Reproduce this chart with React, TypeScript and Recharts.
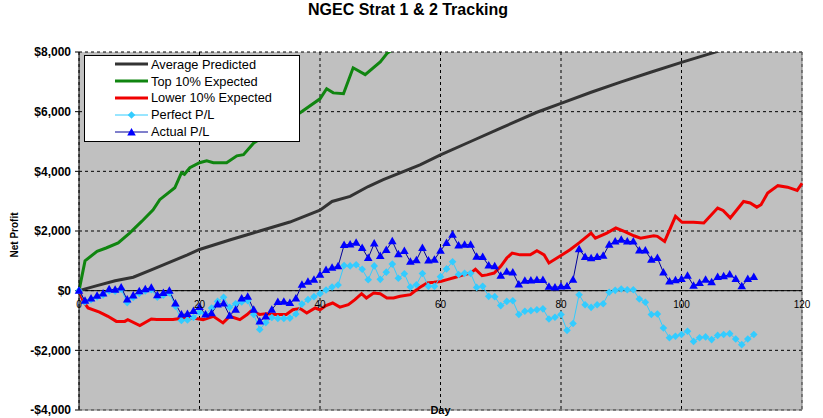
import React from "react";
import {
  LineChart,
  Line,
  XAxis,
  YAxis,
  CartesianGrid,
  ReferenceLine,
  Legend,
} from "recharts";

const dayTicks = [0, 20, 40, 60, 80, 100, 120];
const profitTicks = [-4000, -2000, 0, 2000, 4000, 6000, 8000];

// [day, $] vertices
const averagePredicted: [number, number][] = [
  [0, 0], [3, 170], [6, 330], [9, 450], [12, 700], [15, 950], [18, 1200],
  [20, 1380], [25, 1700], [30, 2000], [35, 2300], [40, 2700], [42, 2990],
  [45, 3160], [48, 3490], [50.5, 3720], [53.3, 3950], [56.6, 4220], [60, 4550],
  [65, 5000], [70, 5450], [76, 5980], [80, 6280], [85, 6650], [90, 7000],
  [95, 7330], [100, 7650], [106, 8020], [112, 8450], [120, 9000],
];

const top10Expected: [number, number][] = [
  [0, 0], [1, 1000], [3, 1320], [4.5, 1430], [6.5, 1600], [8.4, 1930],
  [10.4, 2320], [12.3, 2710], [13.4, 3050], [15.9, 3450], [17, 3950],
  [17.5, 3900], [18.4, 4120], [20, 4290], [21.2, 4350], [22.3, 4290],
  [24.5, 4290], [26.2, 4520], [27.3, 4560], [29, 4950], [33, 5450],
  [36.7, 5960], [40, 6430], [41.1, 6770], [42.2, 6630], [43.9, 6600],
  [45.5, 7470], [47.5, 7240], [50, 7670], [51.2, 7970], [52.5, 8140], [55, 8600],
];

const lower10Expected: [number, number][] = [
  [0, 0], [0.7, -357], [1.5, -580], [3.4, -720], [4.8, -860], [6.2, -1030],
  [7.6, -1030], [8.1, -970], [10.1, -1170], [12, -950], [12.9, -970],
  [15.6, -970], [17.3, -920], [18.9, -920], [20.6, -970], [22.3, -860],
  [23.9, -1080], [25, -860], [26.7, -970], [27.9, -800], [28.5, -690],
  [30, -800], [31.1, -770], [32.7, -800], [34.4, -800], [35.5, -640],
  [36.7, -600], [37.8, -750], [39.2, -580], [40, -640], [41, -500],
  [42.1, -413], [43.3, -550], [44.7, -470], [45.8, -300], [46.9, -100],
  [47.7, -245], [48.9, -80], [50, -100], [51.1, -245], [52.2, -245],
  [53.3, -190], [55, -134], [56.4, 90], [57.8, 260], [58.9, 280], [60, 310],
  [61.1, 370], [62.5, 450], [63.8, 530], [65, 590], [65.8, 720], [66.9, 500],
  [67.7, 530], [68.9, 590], [70, 815], [71, 1095], [71.9, 1260], [73.2, 1200],
  [74.9, 1200], [76, 1340], [77.2, 1200], [78, 930], [80, 1180], [81.5, 1370],
  [83, 1600], [85, 1930], [85.7, 1760], [87.6, 1930], [89.1, 2100],
  [90.5, 1990], [92.1, 1840], [93.2, 1760], [95.4, 1840], [96, 1820],
  [97.2, 1650], [99, 2490], [100.1, 2290], [102, 2290], [103.7, 2270],
  [106, 2770], [106.9, 2690], [108.1, 2440], [110.3, 2990], [111.4, 2940],
  [112.5, 2800], [113.2, 2880], [114.3, 3270], [116, 3520], [117.6, 3470],
  [119.2, 3360], [120, 3600],
];

// one value per day, day 0..112
const perfectPL = [
  0, -380, -300, -210, -140, -10, -20, 50, -400, -230,
  -90, -10, 30, -220, -150, -80, -520, -1000, -980, -900,
  -720, -800, -580, -360, -220, -560, -440, -380, -340, -800,
  -1300, -1070, -900, -930, -930, -920, -780, -450, -300, -200,
  -100, 20, 120, 190, 845, 830, 870, 720, 368, 830,
  380, 620, 890, 415, 565, 120, 200, 575, 145, 145,
  470, 730, 970, 540, 580, 580, 110, 145, -190, -200,
  -500, -360, -340, -800, -690, -670, -640, -610, -950, -890,
  -800, -1330, -1100, -135, -470, -560, -470, -440, -55, 10,
  55, 30, 30, -280, -390, -800, -780, -1250, -1580, -1530,
  -1470, -1360, -1700, -1580, -1550, -1640, -1500, -1470, -1440, -1620,
  -1810, -1620, -1470,
];

const actualPL = [
  0, -340, -265, -170, -95, 45, 30, 110, -300, -160,
  -20, 50, 100, -150, -80, 0, -430, -800, -780, -680,
  -550, -800, -760, -460, -430, -840, -640, -260, -200, -640,
  -1030, -870, -640, -380, -370, -410, -260, 200, 300, 370,
  530, 690, 770, 815, 1530, 1550, 1610, 1430, 1095, 1580,
  1160, 1360, 1660, 1220, 1330, 970, 1020, 1430, 1010, 1040,
  1340, 1600, 1875, 1510, 1540, 1540, 1140, 1130, 845, 815,
  500, 630, 610, 210, 330, 340, 360, 360, 130, 110,
  140, 145, 370, 1390, 1130, 1085, 1130, 1170, 1540, 1650,
  1710, 1650, 1650, 1350, 1350, 1040, 1095, 610, 310, 350,
  390, 500, 167, 255, 369, 280, 460, 480, 540, 390,
  145, 390, 460,
];

const Y_MIN = -4000;
const Y_MAX = 8000;
const PLOT_TOP = 52;
const PLOT_H = 358;
const ZERO_Y = PLOT_TOP + (PLOT_H * Y_MAX) / (Y_MAX - Y_MIN);
const FONT = "Arial, 'Liberation Sans', sans-serif";

const toPoints = (pairs: [number, number][]) => pairs.map(([day, v]) => ({ day, v }));
const dailyRows = perfectPL.map((p, i) => ({ day: i, perfect: p, actual: actualPL[i] }));

const SERIES = [
  { name: "Average Predicted", color: "#333333", width: 3, marker: null },
  { name: "Top 10% Expected", color: "#108510", width: 3, marker: null },
  { name: "Lower 10% Expected", color: "#F00000", width: 3, marker: null },
  { name: "Perfect P/L", color: "#33CCFF", width: 1, marker: "diamond", markerFill: "#33CCFF" },
  { name: "Actual P/L", color: "#000099", width: 1, marker: "triangle", markerFill: "#0000FF" },
];

const diamondPoints = (cx: number, cy: number) =>
  `${cx},${cy - 3.8} ${cx + 3.8},${cy} ${cx},${cy + 3.8} ${cx - 3.8},${cy}`;
const trianglePoints = (cx: number, cy: number) =>
  `${cx},${cy - 4.5} ${cx + 4.3},${cy + 3} ${cx - 4.3},${cy + 3}`;

function DiamondDot(props: any) {
  const { cx, cy, index } = props;
  if (cx == null || cy == null) return <g key={`pd-${index}`} />;
  return <polygon key={`pd-${index}`} points={diamondPoints(cx, cy)} fill="#33CCFF" />;
}

function TriangleDot(props: any) {
  const { cx, cy, index } = props;
  if (cx == null || cy == null) return <g key={`ad-${index}`} />;
  return <polygon key={`ad-${index}`} points={trianglePoints(cx, cy)} fill="#0000FF" />;
}

function DayTick({ x, payload }: any) {
  return (
    <text x={x} y={ZERO_Y + 17.5} textAnchor="middle" fontSize={10} fontFamily={FONT} fill="#000">
      {payload.value}
    </text>
  );
}

const money = (v: number) => (v < 0 ? `-$${Math.abs(v).toLocaleString("en-US")}` : `$${v.toLocaleString("en-US")}`);

function LegendBox() {
  return (
    <div
      style={{
        width: 216,
        height: 87,
        boxSizing: "border-box",
        border: "1px solid #000",
        background: "#fff",
        fontFamily: FONT,
        fontSize: 12.8,
        color: "#000",
      }}
    >
      {SERIES.map((s) => (
        <div key={s.name} style={{ display: "flex", alignItems: "center", height: 16.8 }}>
          <svg width={66} height={14} style={{ flex: "none" }}>
            <line x1={30} x2={63} y1={7} y2={7} stroke={s.color} strokeWidth={s.width} />
            {s.marker === "diamond" && <polygon points={diamondPoints(46.5, 7)} fill={s.markerFill} />}
            {s.marker === "triangle" && <polygon points={trianglePoints(46.5, 7.5)} fill={s.markerFill} />}
          </svg>
          <span style={{ whiteSpace: "nowrap" }}>{s.name}</span>
        </div>
      ))}
    </div>
  );
}

export default function App() {
  return (
    <div style={{ position: "absolute", left: 0, top: 0, width: 823, height: 418, background: "#fff", overflow: "hidden" }}>
      <div
        style={{
          position: "absolute",
          left: 0,
          top: 1,
          width: 816,
          textAlign: "center",
          fontFamily: FONT,
          fontWeight: "bold",
          fontSize: 16,
          color: "#000",
        }}
      >
        NGEC Strat 1 &amp; 2 Tracking
      </div>
      <LineChart width={823} height={418} margin={{ top: PLOT_TOP, right: 21, bottom: 0, left: 0 }}>
        <CartesianGrid stroke="#000" strokeDasharray="3 3" fill="#C0C0C0" />
        <XAxis
          dataKey="day"
          type="number"
          domain={[0, 120]}
          ticks={dayTicks}
          height={8}
          axisLine={false}
          tickLine={false}
          tick={<DayTick />}
          interval={0}
          allowDuplicatedCategory={false}
          label={{
            content: ({ viewBox }: any) => (
              <text
                x={viewBox.x + viewBox.width / 2}
                y={viewBox.y + 3.5}
                textAnchor="middle"
                fontFamily={FONT}
                fontWeight="bold"
                fontSize={11}
                fill="#000"
              >
                Day
              </text>
            ),
          }}
        />
        <YAxis
          type="number"
          domain={[Y_MIN, Y_MAX]}
          ticks={profitTicks}
          allowDataOverflow
          width={79}
          axisLine={{ stroke: "#000" }}
          tickLine={{ stroke: "#000" }}
          tickSize={4}
          tickMargin={4}
          tickFormatter={money}
          tick={{ fill: "#000", fontSize: 12, fontWeight: "bold", fontFamily: FONT }}
          label={{
            content: ({ viewBox }: any) => (
              <text
                x={14}
                y={viewBox.y + viewBox.height / 2 + 4}
                transform={`rotate(-90 14 ${viewBox.y + viewBox.height / 2 + 4})`}
                textAnchor="middle"
                dominantBaseline="central"
                fontFamily={FONT}
                fontWeight="bold"
                fontSize={10}
                fill="#000"
              >
                Net Profit
              </text>
            ),
          }}
        />
        <ReferenceLine x={120} stroke="#808080" />
        <ReferenceLine y={Y_MIN} stroke="#808080" />
        <ReferenceLine y={0} stroke="#000" />
        <Legend
          layout="horizontal"
          verticalAlign="middle"
          align="center"
          content={<LegendBox />}
          wrapperStyle={{ left: 84, top: 55, width: 216, height: 87 }}
        />
        <Line
          data={toPoints(averagePredicted)}
          dataKey="v"
          name="Average Predicted"
          stroke="#333333"
          strokeWidth={3}
          dot={false}
          activeDot={false}
          isAnimationActive={false}
        />
        <Line
          data={toPoints(top10Expected)}
          dataKey="v"
          name="Top 10% Expected"
          stroke="#108510"
          strokeWidth={3}
          dot={false}
          activeDot={false}
          isAnimationActive={false}
        />
        <Line
          data={toPoints(lower10Expected)}
          dataKey="v"
          name="Lower 10% Expected"
          stroke="#F00000"
          strokeWidth={3}
          dot={false}
          activeDot={false}
          isAnimationActive={false}
        />
        <Line
          data={dailyRows}
          dataKey="perfect"
          name="Perfect P/L"
          stroke="#33CCFF"
          strokeWidth={1}
          dot={DiamondDot}
          activeDot={false}
          isAnimationActive={false}
        />
        <Line
          data={dailyRows}
          dataKey="actual"
          name="Actual P/L"
          stroke="#000099"
          strokeWidth={1}
          dot={TriangleDot}
          activeDot={false}
          isAnimationActive={false}
        />
      </LineChart>
    </div>
  );
}
